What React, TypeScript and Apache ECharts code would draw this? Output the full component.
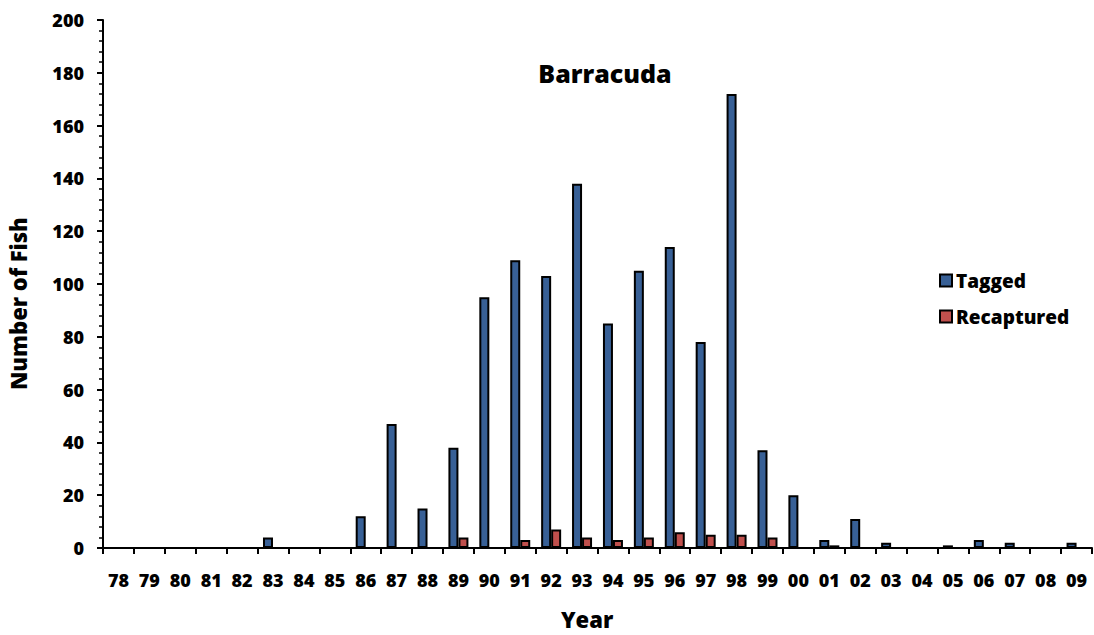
import React, { useEffect, useRef } from "react";
import * as echarts from "echarts";

const years = ["78","79","80","81","82","83","84","85","86","87","88","89","90","91","92","93","94","95","96","97","98","99","00","01","02","03","04","05","06","07","08","09"];
const tagged = [0,0,0,0,0,4,0,0,12,47,15,38,95,109,103,138,85,105,114,78,172,37,20,3,11,2,0,1,3,2,0,2];
const recaptured = [0,0,0,0,0,0,0,0,0,0,0,4,0,3,7,4,3,4,6,5,5,4,0,1,0,0,0,0,0,0,0,0];

const FONT = "'Open Sans', 'Noto Sans', sans-serif";

export default function App() {
  const ref = useRef<HTMLDivElement>(null);
  useEffect(() => {
    if (!ref.current) return;
    const chart = echarts.init(ref.current, null, { renderer: "svg" });
    chart.setOption({
      animation: false,
      backgroundColor: "#ffffff",
      textStyle: { fontFamily: FONT },
      title: {
        text: "Barracuda",
        left: 600,
        top: 55,
        textAlign: "center",
        textStyle: { fontFamily: FONT, fontSize: 25, fontWeight: 800, color: "#000" },
      },
      legend: {
        orient: "vertical",
        left: 934,
        top: 266,
        itemGap: 17,
        itemWidth: 12,
        itemHeight: 12,
        icon: "rect",
        textStyle: { fontFamily: FONT, fontSize: 19, fontWeight: 800, color: "#000", padding: [0, 0, 0, -1] },
        data: ["Tagged", "Recaptured"],
      },
      grid: { left: 103, right: 2, top: 20, bottom: 87 },
      xAxis: {
        type: "category",
        data: years,
        boundaryGap: true,
        axisLine: { lineStyle: { color: "#000", width: 2 } },
        axisTick: { show: true, alignWithLabel: false, length: 6, lineStyle: { color: "#000", width: 2 } },
        axisLabel: { color: "#000", fontSize: 18, fontWeight: 800, margin: 23, fontFamily: FONT, interval: 0 },
      },
      yAxis: {
        type: "value",
        min: 0,
        max: 200,
        interval: 20,
        axisLine: { show: true, lineStyle: { color: "#000", width: 2 } },
        axisTick: { show: true, length: 6, lineStyle: { color: "#000", width: 2 } },
        minorTick: { show: true, splitNumber: 5, length: 4, lineStyle: { color: "#000", width: 1.5 } },
        splitLine: { show: false },
        axisLabel: { color: "#000", fontSize: 18, fontWeight: 800, margin: 19, fontFamily: FONT },
      },
      graphic: [
        {
          type: "text",
          left: 561,
          top: 608,
          style: { text: "Year", font: `800 22px ${FONT}`, fill: "#000" },
        },
        {
          type: "text",
          x: 7,
          y: 390,
          rotation: Math.PI / 2,
          style: { text: "Number of Fish", font: `800 22px ${FONT}`, fill: "#000", textAlign: "left", textVerticalAlign: "top" },
        },
      ],
      series: [
        {
          name: "Tagged",
          type: "bar",
          data: tagged,
          barWidth: 10,
          barGap: "0%",
          itemStyle: { color: "#386096", borderColor: "#000", borderWidth: 2 },
        },
        {
          name: "Recaptured",
          type: "bar",
          data: recaptured,
          barWidth: 10,
          barGap: "0%",
          itemStyle: { color: "#C0504D", borderColor: "#000", borderWidth: 2 },
        },
      ],
    });
    return () => chart.dispose();
  }, []);
  return (
    <div
      ref={ref}
      style={{ position: "absolute", left: 0, top: 0, width: 1094, height: 635 }}
    />
  );
}
